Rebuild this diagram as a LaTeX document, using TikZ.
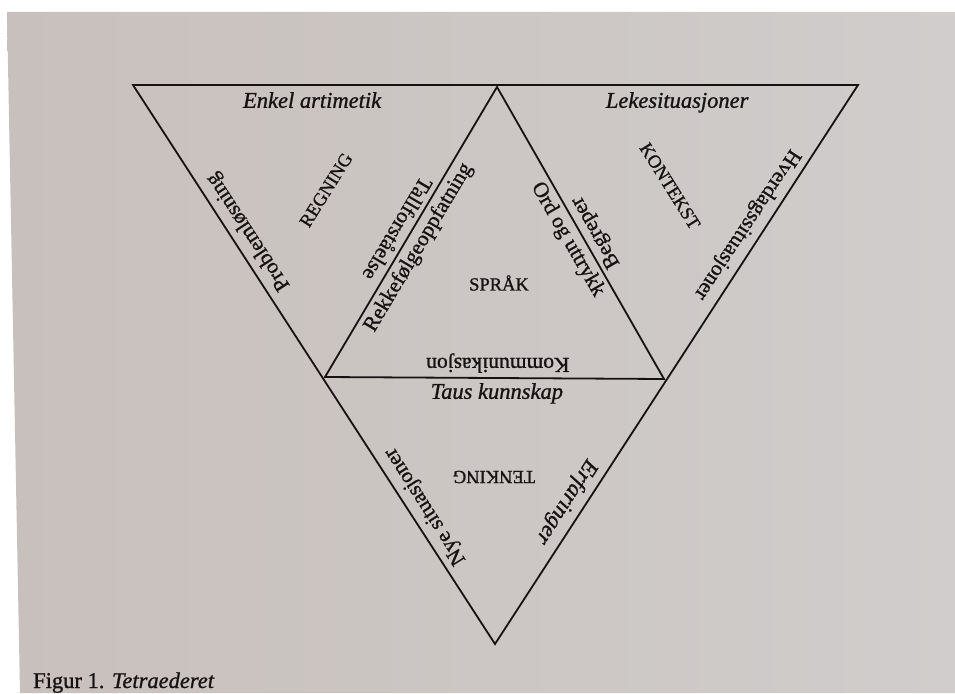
\documentclass[tikz,border=0pt]{standalone}
\usepackage{fontspec}
\setmainfont{Liberation Serif}[FakeBold=1]
\definecolor{paperL}{RGB}{200,192,188}
\definecolor{paperR}{RGB}{208,205,204}
\definecolor{ink}{RGB}{22,18,18}
\begin{document}
\begin{tikzpicture}[x=1pt,y=-1pt,
  edgelab/.style={text=ink,inner xsep=0pt,inner ysep=6pt,anchor=north,font=\fontsize{21.5}{21.5}\selectfont},
  itlab/.style={edgelab,font=\fontsize{22.5}{22.5}\selectfont\itshape},
  caplab/.style={text=ink,inner sep=0pt,font=\fontsize{18.5}{18.5}\selectfont},
  tri/.style={draw=ink,line width=1.8pt,line join=miter}]
\useasboundingbox (0,0) rectangle (955,693);
\fill[white] (0,0) rectangle (955,693);
\shade[left color=paperL,right color=paperR] (7,12) -- (955,12) -- (955,693) -- (20,693) -- cycle;
% vertices
\coordinate (A) at (133,85);
\coordinate (B) at (497,87);
\coordinate (C) at (858,85);
\coordinate (D) at (325,377);
\coordinate (E) at (664,379);
\coordinate (F) at (495,644);
\draw[tri] (A) -- (C) -- (F) -- cycle;
\draw[tri] (B) -- (D) -- (E) -- cycle;
% REGNING
\path (A) -- (B) node[itlab,pos=0.492] (enkel) {Enkel artimetik};
\path (A) -- (D) node[edgelab,pos=0.532,rotate=123.3] (probl) {Problemløsning};
\node[caplab,rotate=58] (regning) at (326,190) {REGNING};
\path (D) -- (B) node[edgelab,pos=0.4875,rotate=239.3,inner ysep=4.5pt] (tall) {Tallforståelse};
% SPRÅK
\path (D) -- (B) node[edgelab,pos=0.472,rotate=59.3,inner ysep=4.5pt] (rekke) {Rekkefølgeoppfatning};
\node[caplab] (sprak) at (499,283) {SPRÅK};
\path (B) -- (E) node[edgelab,pos=0.498,rotate=-60.2,inner ysep=4.5pt] (ord) {Ord og uttrykk};
\path (D) -- (E) node[edgelab,pos=0.51,rotate=180,inner ysep=5pt] (komm) {Kommunikasjon};
% KONTEKST
\path (B) -- (C) node[itlab,pos=0.499] (leke) {Lekesituasjoner};
\node[caplab,rotate=-58] (kontekst) at (670,186) {KONTEKST};
\path (B) -- (E) node[edgelab,pos=0.521,rotate=119.8,inner ysep=4.5pt] (begr) {Begreper};
\path (C) -- (E) node[edgelab,pos=0.504,rotate=236.6] (hverd) {Hverdagssituasjoner};
% TENKING
\path (D) -- (E) node[itlab,pos=0.507,inner ysep=5pt] (taus) {Taus kunnskap};
\node[caplab,rotate=180] (tenking) at (494,477) {TENKING};
\path (D) -- (F) node[edgelab,pos=0.515,rotate=122.5] (nye) {Nye situasjoner};
\path (E) -- (F) node[itlab,pos=0.497,rotate=237.5] (erf) {Erfaringer};
% caption
\node[text=ink,anchor=base west,inner sep=0pt,font=\fontsize{22.5}{22.5}\selectfont] (cap) at (33,688) {Figur 1. \textit{Tetraederet}};
\end{tikzpicture}
\end{document}
